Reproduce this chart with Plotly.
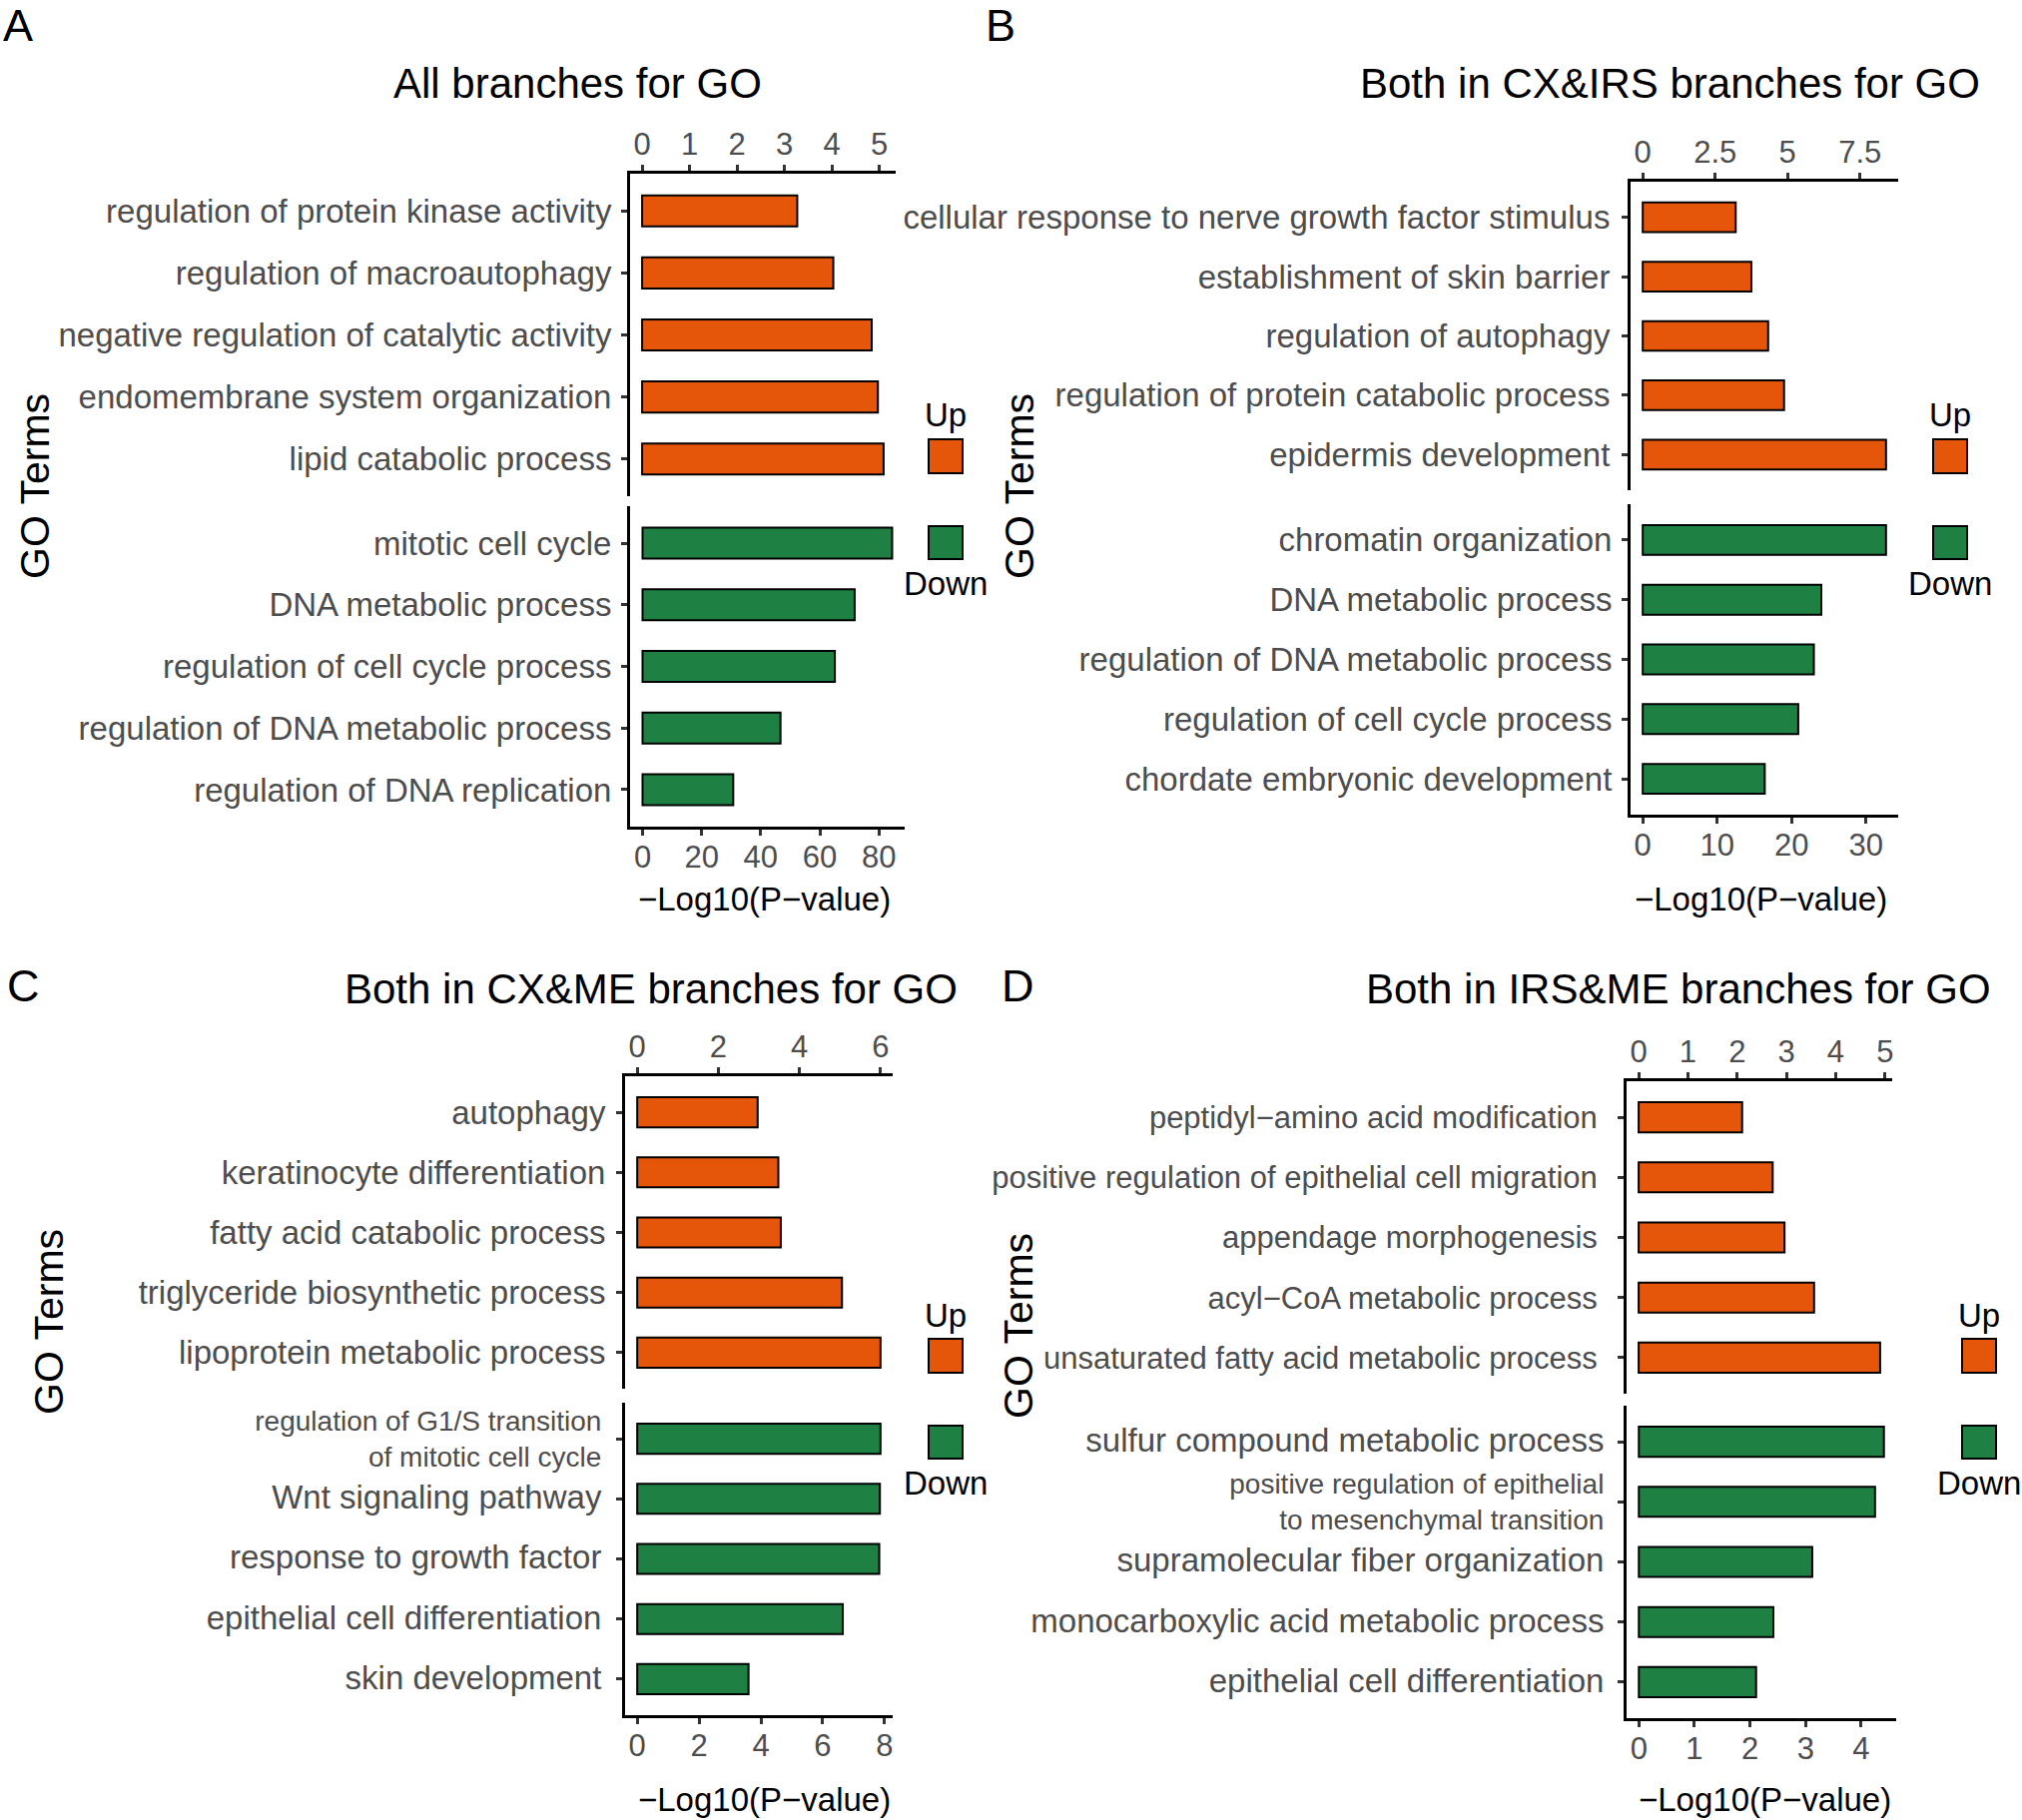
import plotly.graph_objects as go

W, H = 2025, 1823
ORANGE = "#E5560B"
GREEN = "#1E8042"
GREY = "#4D4D4D"
FONT = "Liberation Sans, Arial, sans-serif"

# ---- data ----
a_up_terms = ["regulation of protein kinase activity", "regulation of macroautophagy",
              "negative regulation of catalytic activity", "endomembrane system organization",
              "lipid catabolic process"]
a_up_vals = [3.27, 4.03, 4.84, 4.97, 5.09]
a_down_terms = ["mitotic cell cycle", "DNA metabolic process", "regulation of cell cycle process",
                "regulation of DNA metabolic process", "regulation of DNA replication"]
a_down_vals = [84.5, 71.8, 65.1, 46.7, 30.7]

b_up_terms = ["cellular response to nerve growth factor stimulus", "establishment of skin barrier",
              "regulation of autophagy", "regulation of protein catabolic process",
              "epidermis development"]
b_up_vals = [3.21, 3.75, 4.33, 4.88, 8.40]
b_down_terms = ["chromatin organization", "DNA metabolic process", "regulation of DNA metabolic process",
                "regulation of cell cycle process", "chordate embryonic development"]
b_down_vals = [32.7, 24.0, 23.0, 20.9, 16.4]

c_up_terms = ["autophagy", "keratinocyte differentiation", "fatty acid catabolic process",
              "triglyceride biosynthetic process", "lipoprotein metabolic process"]
c_up_vals = [2.97, 3.48, 3.54, 5.05, 6.0]
c_down_terms = ["regulation of G1/S transition<br>of mitotic cell cycle", "Wnt signaling pathway",
                "response to growth factor", "epithelial cell differentiation", "skin development"]
c_down_vals = [7.87, 7.85, 7.83, 6.65, 3.6]

d_up_terms = ["peptidyl\u2212amino acid modification", "positive regulation of epithelial cell migration",
              "appendage morphogenesis", "acyl\u2212CoA metabolic process",
              "unsaturated fatty acid metabolic process"]
d_up_vals = [2.1, 2.72, 2.96, 3.56, 4.9]
d_down_terms = ["sulfur compound metabolic process",
                "positive regulation of epithelial<br>to mesenchymal transition",
                "supramolecular fiber organization", "monocarboxylic acid metabolic process",
                "epithelial cell differentiation"]
d_down_vals = [4.41, 4.25, 3.12, 2.42, 2.11]

titles = ["All branches for GO", "Both in CX&IRS branches for GO",
          "Both in CX&ME branches for GO", "Both in IRS&ME branches for GO"]
letters = ["A", "B", "C", "D"]
top_dticks = [1, 2.5, 2, 1]
bottom_dticks = [20, 10, 2, 1]
x_title = "\u2212Log10(P\u2212value)"


def fx(x):
    return x / W


def fy(y):
    return 1 - y / H


# panel geometry in pixels: top (x0, x1, y0, y1), bottom (x0, x1, y0, y1)
geom = [
    ((631, 897, 174, 497), (631, 906, 507, 828)),
    ((1633, 1901, 182, 491), (1633, 1901, 505, 816)),
    ((626, 894, 1078, 1391), (626, 894, 1405, 1718)),
    ((1629, 1895, 1083, 1396), (1629, 1899, 1408, 1721)),
]
label_size = [(33, 33), (33, 33), (33, 33), (31, 33)]
label_gap = [(3, 3), (5, 3), (4, 9), (14, 8)]
title_pos = [(578, 84), (1672, 84), (652, 990), (1681, 990)]
letter_pos = [(18, 26), (1002, 26), (23, 988), (1020, 988)]
yt_pos = [(35, 487), (1021, 487), (49, 1324), (1020, 1328)]
xt_pos = [(765, 900), (1763, 900), (765, 1802), (1767, 1802)]
leg_pos = [(947, 416), (1953, 416), (947, 1317), (1982, 1317)]

data = [
    (a_up_terms, a_up_vals, a_down_terms, a_down_vals),
    (b_up_terms, b_up_vals, b_down_terms, b_down_vals),
    (c_up_terms, c_up_vals, c_down_terms, c_down_vals),
    (d_up_terms, d_up_vals, d_down_terms, d_down_vals),
]

fig = go.Figure()
layout = {}
shapes = []
annotations = []


def note(text, x, y, size, angle=0):
    annotations.append(dict(text=text, x=fx(x), y=fy(y), xref="paper", yref="paper",
                            xanchor="center", yanchor="middle", showarrow=False,
                            textangle=angle, font=dict(size=size, color="black", family=FONT)))


k = 0
for p in range(4):
    up_t, up_v, dn_t, dn_v = data[p]
    for part, (terms, vals, color, dtick, side) in enumerate([
            (up_t, up_v, ORANGE, top_dticks[p], "top"),
            (dn_t, dn_v, GREEN, bottom_dticks[p], "bottom")]):
        k += 1
        sfx = "" if k == 1 else str(k)
        x0, x1, y0, y1 = geom[p][part]
        fig.add_trace(go.Bar(
            x=vals, y=terms, orientation="h", width=0.5,
            marker=dict(color=color, line=dict(color="black", width=2)),
            xaxis="x" + sfx, yaxis="y" + sfx, showlegend=False, hoverinfo="x+y",
        ))
        vmax = max(vals)
        layout["xaxis" + sfx] = dict(
            domain=[fx(x0), fx(x1)], anchor="y" + sfx, side=side,
            range=[-0.05 * vmax, 1.05 * vmax], dtick=dtick, tick0=0,
            showline=True, linecolor="black", linewidth=3,
            ticks="outside", ticklen=6, tickwidth=3, tickcolor="#333333",
            tickfont=dict(size=31, color=GREY, family=FONT),
            ticklabelstandoff=-2 if side == "top" else -5,
            showgrid=False, zeroline=False,
        )
        # two-line terms are set smaller; the axis font drives their line spacing
        fsize = label_size[p][part]
        if any("<br>" in t for t in terms):
            ticktext = [t if "<br>" in t else
                        "<span style='font-size:%dpx'>%s</span>" % (fsize, t) for t in terms]
            fsize = 28
        else:
            ticktext = terms
        n = len(terms)
        layout["yaxis" + sfx] = dict(
            domain=[fy(y1), fy(y0)], anchor="x" + sfx,
            type="category", categoryorder="array", categoryarray=terms,
            tickvals=terms, ticktext=ticktext,
            range=[n - 0.4, -0.6],
            showline=True, linecolor="black", linewidth=3,
            ticks="outside", ticklen=6, tickwidth=3, tickcolor="#333333",
            tickfont=dict(size=fsize, color=GREY, family=FONT),
            ticklabelstandoff=label_gap[p][part],
            showgrid=False, zeroline=False,
        )

    note(titles[p], *title_pos[p], 42)
    note(letters[p], *letter_pos[p], 45)
    note("GO Terms", *yt_pos[p], 41, angle=-90)
    note(x_title, *xt_pos[p], 33)

    # Up / Down keys
    lx, ly = leg_pos[p]
    note("Up", lx, ly, 33)
    note("Down", lx, ly + 168, 33)
    for c, (sy0, sy1) in [(ORANGE, (ly + 24, ly + 58)), (GREEN, (ly + 111, ly + 144))]:
        shapes.append(dict(type="rect", xref="paper", yref="paper",
                           x0=fx(lx - 17), x1=fx(lx + 17), y0=fy(sy1), y1=fy(sy0),
                           fillcolor=c, line=dict(color="black", width=2)))

fig.update_layout(
    width=W, height=H, margin=dict(l=0, r=0, t=0, b=0),
    paper_bgcolor="white", plot_bgcolor="white",
    font=dict(family=FONT),
    shapes=shapes, annotations=annotations, **layout,
)

# drop the page's default body margin so the figure fills the window exactly
fig.write_html("out.html", config={"displayModeBar": False},
               post_script="document.body.style.margin = '0';")
